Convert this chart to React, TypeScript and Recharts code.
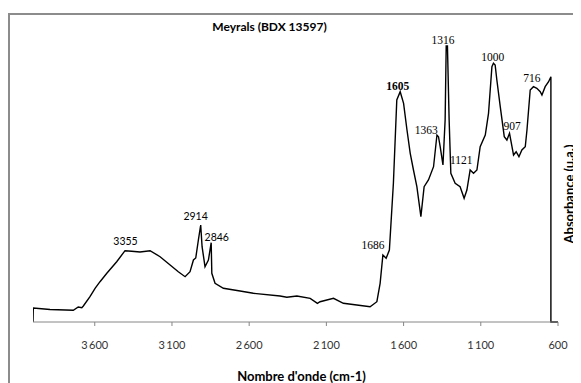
import { LineChart, Line, XAxis, YAxis, ReferenceDot, Label } from 'recharts';

// wavenumber (cm-1) / absorbance (arbitrary units)
const wavenumber = [
  4000, 3998, 3890, 3739, 3707, 3684, 3674, 3631, 3598, 3566,
  3522, 3458, 3404, 3361, 3307, 3242, 3177, 3112, 3059, 3015,
  2983, 2961, 2946, 2929, 2914, 2905, 2886, 2864, 2846, 2842,
  2821, 2767, 2659, 2573, 2400, 2356, 2291, 2205, 2158, 2141,
  2054, 1990, 1903, 1817, 1773, 1752, 1734, 1713, 1692, 1666,
  1644, 1622, 1600, 1578, 1557, 1536, 1514, 1488, 1467, 1439,
  1406, 1384, 1374, 1363, 1345, 1331, 1324, 1316, 1305, 1294,
  1266, 1234, 1208, 1190, 1169, 1147, 1125, 1104, 1071, 1050,
  1028, 1018, 1007, 996, 974, 948, 931, 914, 898, 888,
  871, 853, 834, 812, 801, 780, 759, 737, 715, 704,
  683, 661, 646, 646, 600,
];
const absorbance = [
  0, 14, 12.5, 11.7, 15, 14.3, 16, 25.3, 33.7, 40.3,
  48.7, 60.3, 71.3, 70.7, 70, 71.3, 65.3, 57, 50.3, 45.3,
  50.3, 62, 64, 82, 97, 75.3, 55.3, 62, 79.3, 48.7,
  38.7, 33.7, 31, 28.7, 26, 24.7, 26, 23.7, 18.7, 20.3,
  23.7, 18.7, 17, 15.3, 20.3, 38.7, 67, 63.7, 72, 138.7,
  222, 230.3, 218.7, 192, 168.7, 152, 135.3, 105.3, 135.3, 142,
  155.3, 187, 185.3, 175.3, 157, 202, 276, 276, 202, 148.7,
  138.7, 135.3, 123.7, 132, 152, 148.7, 152, 175.3, 187, 208.7,
  255.3, 258.7, 257, 242, 215.3, 185.3, 182, 188.7, 175.3, 167,
  170.3, 165.3, 172, 175.3, 192, 232, 235.3, 233.7, 230.3, 227,
  235.3, 240.3, 245.3, 0, 0,
];

const xTicks = [3600, 3100, 2600, 2100, 1600, 1100, 600];
const xTickLabels = ['3\u2009600', '3\u2009100', '2\u2009600', '2\u2009100', '1\u2009600', '1\u2009100', '600'];

// peak annotations (anchored in data space)
const peakText = ['3355', '2914', '2846', '1686', '1605', '1363', '1316', '1121', '1000', '907', '716'];
const peakWn = [3401, 2947, 2810, 1798, 1638, 1454, 1344, 1227, 1023, 897, 769];
const peakAbs = [81, 106, 85, 77, 236, 192, 282, 162, 265.5, 196, 244.5];
const peakSerif = [false, false, false, true, true, true, true, true, true, true, true];

const data = wavenumber.map((wn, i) => ({ wn, abs: absorbance[i] }));

const sans = 'Lato, "Liberation Sans", sans-serif';
const serif = '"Liberation Serif", serif';

export default function App() {
  return (
    <div style={{ paddingTop: 5 }}>
      <div style={{ position: 'relative', width: 571, height: 368, borderTop: '2px solid #8c8c8c', borderLeft: '2px solid #8c8c8c' }}>
        <div style={{ position: 'absolute', left: 159.5, top: 4, width: 200, textAlign: 'center', fontFamily: sans, fontWeight: 700, fontSize: 12, lineHeight: '16px', color: '#000' }}>
          Meyrals (BDX 13597)
        </div>
        <LineChart width={571} height={368} data={data} margin={{ top: 27, right: 0, bottom: 31, left: 23 }}>
          <XAxis
            dataKey="wn"
            type="number"
            domain={[600, 4000]}
            reversed
            ticks={xTicks}
            tickFormatter={(v: number) => xTickLabels[xTicks.indexOf(v)] ?? String(v)}
            height={30}
            stroke="#868686"
            tickSize={4}
            tickMargin={15}
            tick={{ fill: '#333', fontSize: 11, fontFamily: sans }}
            allowDataOverflow
          >
            <Label
              content={({ viewBox }: any) => (
                <text x={viewBox.x + viewBox.width / 2 + 6} y={viewBox.y + 54} textAnchor="middle" dominantBaseline="central"
                  style={{ fontFamily: sans, fontWeight: 700, fontSize: 13, fill: '#000' }}>
                  Nombre d'onde (cm-1)
                </text>
              )}
            />
          </XAxis>
          <YAxis orientation="right" domain={[0, 280]} width={23} tick={false} axisLine={false} tickLine={false}>
            <Label
              content={({ viewBox }: any) => {
                const x = viewBox.x + 11;
                const y = viewBox.y + viewBox.height / 2 + 12;
                return (
                  <text x={x} y={y} transform={`rotate(-90, ${x}, ${y})`} textAnchor="middle" dominantBaseline="central"
                    style={{ fontFamily: sans, fontWeight: 700, fontSize: 13, fill: '#000' }}>
                    Absorbance (u.a.)
                  </text>
                );
              }}
            />
          </YAxis>
          <Line type="linear" dataKey="abs" stroke="#000" strokeWidth={1.4} dot={false} isAnimationActive={false} />
          {peakText.map((t, i) => (
            <ReferenceDot key={t} x={peakWn[i]} y={peakAbs[i]} r={0} fill="none" stroke="none" ifOverflow="visible"
              label={{
                value: t,
                position: 'center',
                fill: '#000',
                fontSize: peakSerif[i] ? 11.5 : 10.5,
                fontFamily: peakSerif[i] ? serif : sans,
                fontWeight: t === '1605' ? 700 : 400,
              }}
            />
          ))}
        </LineChart>
      </div>
    </div>
  );
}
